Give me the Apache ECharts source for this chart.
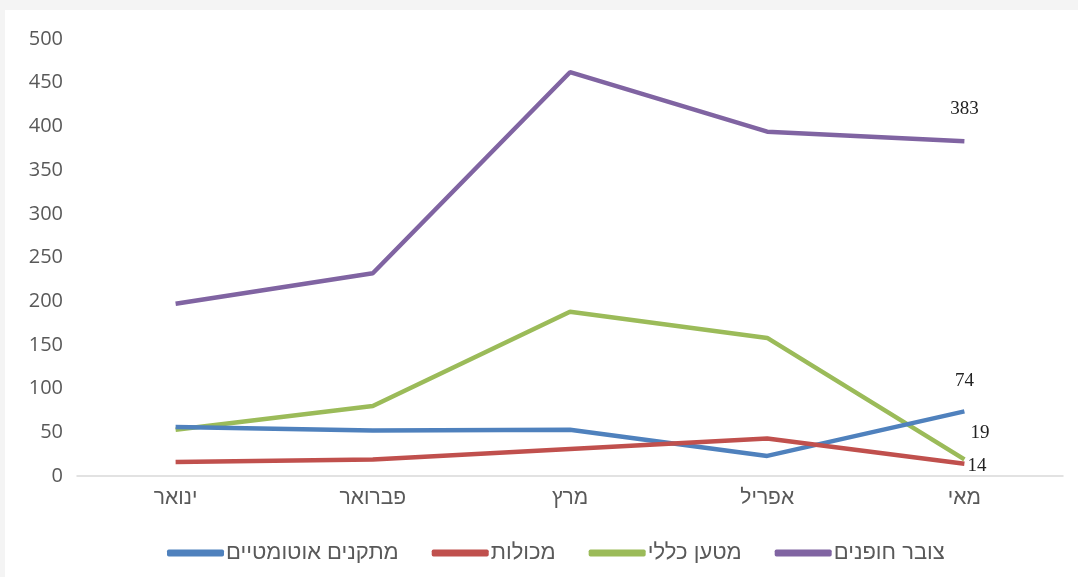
<!DOCTYPE html>
<html><head><meta charset="utf-8">
<script src="https://cdn.jsdelivr.net/npm/echarts@6/dist/echarts.min.js"></script>
<style>
html,body{margin:0;padding:0;background:#f4f4f4;width:1078px;height:577px;overflow:hidden;}
#c{position:absolute;left:5px;top:10px;width:1073px;height:567px;background:#fff;}
#c canvas{direction:rtl;}
</style></head><body>
<div id="c"></div>
<script>
const categories = ['ינואר','פברואר','מרץ','אפריל','מאי'];
const autoFacilities = [56, 52, 53, 23, 74];   // מתקנים אוטומטיים
const containers = [16, 19, 31, 43, 14];       // מכולות
const generalCargo = [53, 80, 188, 158, 19];   // מטען כללי
const dryBulk = [197, 232, 462, 394, 383];     // צובר חופנים
const yTicks = {min:0, max:500, interval:50};

const lastLabel = (vals, pos, offset) => vals.map((v,i)=> i===vals.length-1 ? {value:v, label:{show:true, position:pos, offset:offset||[0,0]}} : v);
const labelStyle = {fontFamily:'Liberation Serif, serif', fontSize:19, color:'#222'};
const sans = 'Liberation Sans, Arial, sans-serif';

const chart = echarts.init(document.getElementById('c'));
chart.setOption({
  animation:false,
  grid:{left:72, right:15, top:29, bottom:101},
  xAxis:{type:'category', data:categories, boundaryGap:true,
    axisLine:{lineStyle:{color:'#d9d9d9', width:1.5}}, axisTick:{show:false},
    axisLabel:{color:'#595959', fontSize:21, margin:12, fontFamily:sans}},
  yAxis:{type:'value', min:yTicks.min, max:yTicks.max, interval:yTicks.interval,
    splitLine:{show:false}, axisLine:{show:false}, axisTick:{show:false},
    axisLabel:{color:'#595959', fontSize:20, margin:14, fontFamily:'Open Sans, sans-serif'}},
  legend:{bottom:8, left:157, itemGap:33, icon:'roundRect', itemWidth:57, itemHeight:7,
    textStyle:{color:'#595959', fontSize:22, fontFamily:sans, padding:[0,0,0,-3]},
    data:['מתקנים אוטומטיים','מכולות','מטען כללי','צובר חופנים']},
  series:[
    {name:'צובר חופנים', type:'line', data:lastLabel(dryBulk,'top',[0,-18]), symbol:'circle', symbolSize:0, lineStyle:{width:4.5, color:'#8064A2'}, itemStyle:{color:'#8064A2'}, label:labelStyle},
    {name:'מטען כללי', type:'line', data:lastLabel(generalCargo,'right',[1,-26]), symbol:'circle', symbolSize:0, lineStyle:{width:4.5, color:'#9BBB59'}, itemStyle:{color:'#9BBB59'}, label:labelStyle},
    {name:'מתקנים אוטומטיים', type:'line', data:lastLabel(autoFacilities,'top',[0,-16]), symbol:'circle', symbolSize:0, lineStyle:{width:4.5, color:'#4F81BD'}, itemStyle:{color:'#4F81BD'}, label:labelStyle},
    {name:'מכולות', type:'line', data:lastLabel(containers,'right',[-2,2]), symbol:'circle', symbolSize:0, lineStyle:{width:4.5, color:'#C0504D'}, itemStyle:{color:'#C0504D'}, label:labelStyle}
  ]
});
</script></body></html>
